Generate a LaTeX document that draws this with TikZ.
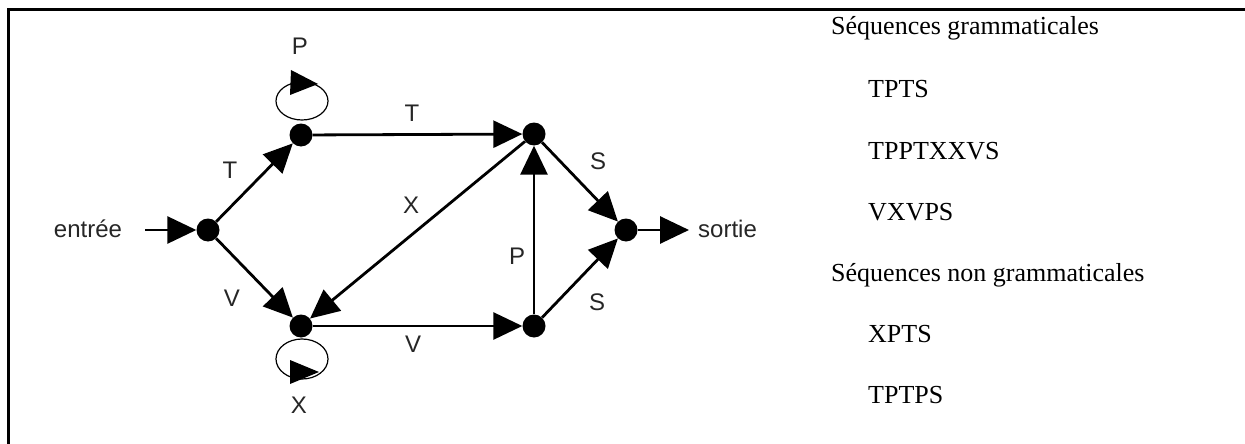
\documentclass[tikz,border=0pt]{standalone}
\usepackage{fontspec}
\setmainfont{Liberation Serif}
\newfontfamily\labelfont{Liberation Sans}
\usetikzlibrary{arrows.meta}

\begin{document}
\begin{tikzpicture}[x=1pt,y=-1pt,
  state/.style={circle,fill=black,inner sep=0pt,minimum size=23pt},
  trans/.style={line width=2.8pt,-{Triangle[length=29pt,width=27pt]}},
  loopline/.style={line width=1.2pt},
  lbl/.style={font=\labelfont\fontsize{24}{28}\selectfont,text=black!85,inner sep=0pt},
  seq/.style={font=\fontsize{26}{30}\selectfont,anchor=base west,inner sep=0pt}]
  \useasboundingbox (0,0) rectangle (1245,444);

  % frame: top and left edges only
  \draw[line width=3pt] (8.5,444) -- (8.5,9.5) -- (1245,9.5);

  % states of the automaton
  \node[state] (n0) at (208,230) {};
  \node[state] (n1) at (301,135) {};
  \node[state] (n2) at (301,326) {};
  \node[state] (n3) at (534,134) {};
  \node[state] (n4) at (534,326) {};
  \node[state] (n5) at (626,230) {};

  % entry and exit
  \node[lbl] (in) at (88,229) {entrée};
  \node[lbl,anchor=west] (out) at (698,229) {sortie};
  \coordinate (inStart) at (145,230);
  \coordinate (outEnd) at (689,230);
  \draw[trans] (inStart) -- (n0);
  \draw[trans] (n5) -- (outEnd);

  % transitions
  \draw[trans] (n0) -- (n1);
  \draw[trans] (n0) -- (n2);
  \draw[trans] (n1) -- (n3);
  \draw[trans] (n3) -- (n2);
  \draw[trans] (n2) -- (n4);
  \draw[trans] (n4) -- (n3);
  \draw[trans] (n3) -- (n5);
  \draw[trans] (n4) -- (n5);

  % self loops with their arrowheads
  \coordinate (l1) at (302,101);
  \coordinate (l2) at (302,359);
  \draw[loopline] (l1) ellipse [x radius=26, y radius=19];
  \draw[loopline] (l2) ellipse [x radius=26, y radius=20];
  \fill (291,70) -- (318,84) -- (290,95) -- cycle;
  \fill (290,360) -- (319,372) -- (290,384) -- cycle;

  % transition labels
  \node[lbl] (lP1) at (300,46) {P};
  \node[lbl] (lX2) at (299,405) {X};
  \node[lbl] (lT1) at (230,170) {T};
  \node[lbl] (lT2) at (412,113) {T};
  \node[lbl] (lX) at (411,205) {X};
  \node[lbl] (lV1) at (232,298) {V};
  \node[lbl] (lV2) at (413,344) {V};
  \node[lbl] (lP) at (517,256) {P};
  \node[lbl] (lS1) at (598,161) {S};
  \node[lbl] (lS2) at (597,302) {S};

  % example sequences
  \node[seq] (g0) at (831,35) {Séquences grammaticales};
  \node[seq] (g1) at (868,97) {TPTS};
  \node[seq] (g2) at (868,159) {TPPTXXVS};
  \node[seq] (g3) at (868,220) {VXVPS};
  \node[seq] (h0) at (831,281) {Séquences non grammaticales};
  \node[seq] (h1) at (868,342) {XPTS};
  \node[seq] (h2) at (868,403) {TPTPS};
\end{tikzpicture}
\end{document}
